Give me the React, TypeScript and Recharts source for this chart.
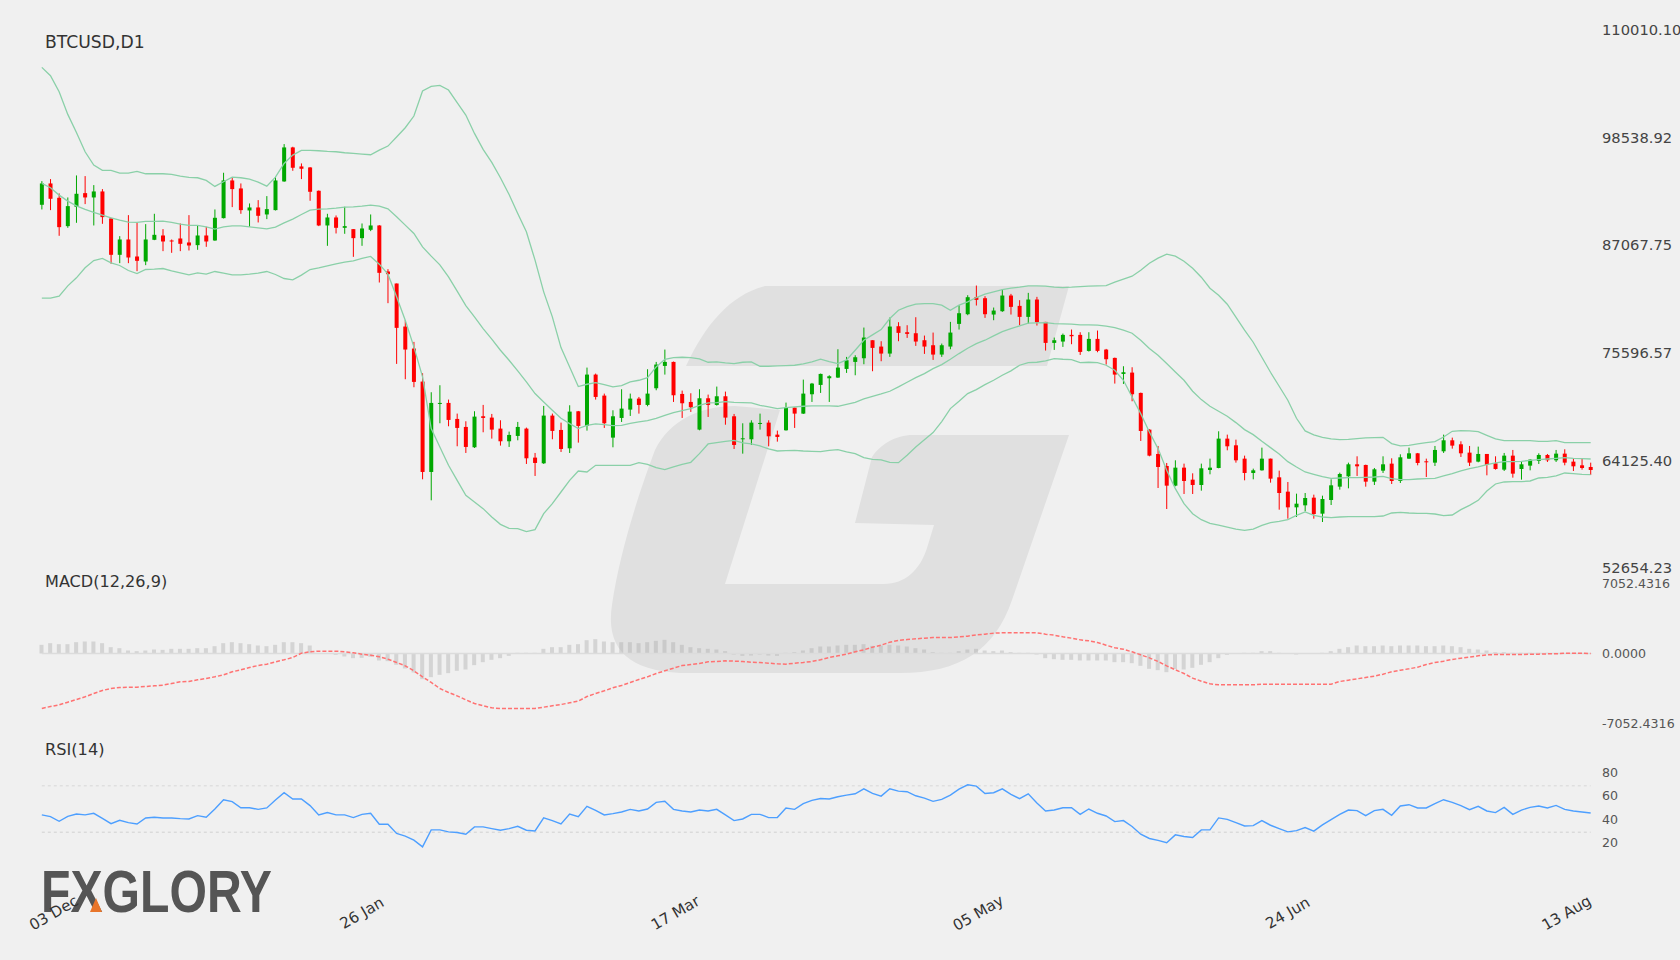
import { Bar, ComposedChart, Line, ReferenceLine, XAxis, YAxis } from "recharts"

const opens = [
  91376, 93652, 92122, 89100, 91162, 92620, 92158, 92798, 89918, 86042,
  87678, 85864, 85331, 87642, 88104, 87571, 87784, 87358, 87073, 88104,
  87571, 89953, 93972, 93118, 90771, 91091, 90345, 90807, 93865, 97492,
  95465, 95358, 92869, 89171, 90024, 88922, 88780, 87820, 88709, 89171,
  84264, 82984, 78396, 76049, 72529, 62892, 70147, 70253, 68546, 67693,
  65524, 68831, 68688, 67515, 66164, 66733, 67515, 64422, 63816, 68902,
  67371, 65415, 69362, 67798, 73274, 71034, 66553, 68651, 69540, 70714,
  70038, 71816, 74198, 74625, 71211, 70358, 67407, 70749, 70038, 70962,
  68829, 66375, 66375, 68011, 68153, 66873, 67335, 69754, 69113, 71176,
  72172, 72883, 72954, 73878, 74625, 75016, 76937, 76261, 75514, 78430,
  77790, 77683, 76937, 76403, 75408, 76261, 78679, 79710, 81524, 81417,
  79675, 80030, 81702, 80599, 79426, 81275, 78892, 76652, 76795, 77506,
  77506, 75799, 77079, 75941, 75052, 73345, 73487, 71318, 67407, 64811,
  63531, 61433, 63353, 62073, 61504, 63104, 63317, 66447, 65735, 64313,
  62784, 63068, 64313, 62322, 60793, 59121, 59335, 60153, 58446, 59904,
  61326, 62428, 63709, 63638, 61859, 63033, 63780, 61931, 64313, 64882,
  64029, 63886, 65095, 66269, 65842, 64953, 63993, 64811, 63815, 63140,
  64633, 63211, 63566, 64064, 64704, 64135, 64846, 63993, 63602, 63424,
]

const closes = [
  93652, 92016, 88993, 91233, 92549, 92158, 92798, 90060, 86042, 87678,
  85757, 85402, 87678, 88175, 87464, 87464, 87215, 87037, 88104, 87464,
  89989, 93972, 93047, 90807, 91091, 90202, 90914, 93972, 97492, 95323,
  95216, 92763, 89171, 90024, 88922, 89100, 87820, 88851, 89171, 84122,
  83979, 78254, 75943, 72493, 62892, 70253, 70253, 68440, 67586, 65559,
  68795, 68653, 67408, 66164, 66839, 67693, 64350, 63852, 68902, 67266,
  65344, 69327, 67798, 73274, 70891, 68082, 68829, 69647, 70714, 70038,
  71247, 74341, 74625, 71069, 70216, 69789, 70749, 70038, 70962, 68687,
  65771, 66482, 68153, 68118, 66695, 66624, 69754, 69113, 71247, 72314,
  73345, 73096, 74021, 74803, 75123, 77221, 76119, 75514, 78395, 77719,
  77612, 76795, 76261, 75408, 76403, 77754, 79817, 81524, 81239, 79710,
  80101, 81702, 80493, 79426, 81275, 78857, 76652, 76937, 77506, 77363,
  75692, 77079, 75799, 74910, 73274, 73523, 71176, 67264, 64633, 63424,
  61433, 63353, 61931, 61504, 63282, 63353, 66447, 65629, 64135, 62784,
  63068, 64313, 62179, 60650, 59121, 59512, 60117, 58410, 60010, 61468,
  62677, 63709, 63495, 61859, 63175, 63709, 61931, 64455, 64882, 63851,
  63922, 65238, 66269, 65700, 64882, 63886, 64811, 63638, 63211, 64633,
  62713, 63709, 64206, 64704, 64135, 64846, 63886, 63495, 63317, 63104,
]

const highs = [
  93900, 94114, 92585, 92158, 94505, 94434, 93474, 93047, 89989, 88033,
  90273, 89455, 89313, 90416, 88780, 87678, 89384, 90273, 89207, 89029,
  90878, 94790, 94327, 93652, 91518, 91874, 92300, 94363, 97848, 97563,
  95785, 95394, 92905, 90416, 90238, 91162, 88780, 89384, 90345, 89207,
  84513, 82984, 79072, 76761, 73418, 71391, 72138, 70609, 69115, 68297,
  69364, 70040, 69080, 68404, 67196, 68226, 67622, 64919, 69933, 69115,
  68153, 70002, 69398, 74021, 73381, 71247, 69469, 71710, 71247, 70891,
  73843, 74625, 75941, 74661, 71567, 71283, 71710, 71140, 71994, 71460,
  69078, 68082, 68402, 69113, 68402, 67300, 70287, 69754, 72740, 72385,
  73381, 73203, 75976, 75159, 75336, 78288, 76937, 76830, 79355, 78857,
  78537, 79390, 77434, 77754, 76581, 78892, 80670, 81737, 82768, 81630,
  80421, 82377, 81879, 81204, 81986, 81559, 78892, 77221, 77648, 78075,
  77790, 77790, 77968, 76012, 75087, 74163, 74056, 71354, 67442, 65664,
  63851, 64135, 63780, 62748, 63780, 64313, 67229, 66873, 66340, 64633,
  63246, 65486, 64313, 63033, 61824, 60579, 60650, 60472, 60366, 62108,
  62820, 63886, 64562, 63673, 63317, 64562, 64349, 64775, 65486, 64918,
  64313, 65664, 66873, 66553, 66162, 65664, 65593, 64811, 64562, 64918,
  65238, 63957, 64242, 64882, 64811, 65238, 65309, 64313, 64313, 63886,
]

const lows = [
  90878, 90807, 88069, 88922, 89455, 91447, 89171, 89349, 85082, 85153,
  85153, 84299, 84940, 87606, 86433, 86255, 86433, 86504, 86575, 86895,
  87535, 89918, 91127, 90416, 89029, 89491, 89847, 90771, 93829, 95003,
  94114, 91802, 89100, 87002, 88318, 88282, 85828, 87002, 88566, 83090,
  80886, 74414, 72778, 71924, 62110, 59870, 68084, 67764, 65631, 64919,
  65453, 67124, 66448, 65702, 65559, 66270, 63746, 62466, 63746, 66377,
  65024, 64917, 66020, 67300, 70607, 67585, 65522, 68224, 68865, 69113,
  69896, 71603, 73274, 70358, 68651, 69291, 67335, 68758, 69967, 67931,
  65344, 64846, 65771, 67407, 65628, 66126, 67300, 67585, 69078, 70358,
  71318, 70358, 72918, 73452, 73203, 74376, 73630, 74696, 75159, 76830,
  77186, 76332, 75479, 74839, 75159, 75976, 78075, 79604, 80635, 79319,
  79070, 79959, 79675, 78537, 78715, 78501, 75834, 75905, 76226, 76510,
  75372, 75728, 75656, 74341, 72314, 72278, 70429, 66198, 64562, 61184,
  58943, 61362, 60544, 60544, 60899, 62641, 63282, 65202, 63886, 62002,
  62108, 63033, 61753, 58872, 57912, 58090, 58694, 57912, 57557, 59370,
  61006, 61148, 62464, 61326, 61504, 62784, 61611, 61717, 64277, 63602,
  62357, 63531, 64918, 65380, 64491, 63531, 63922, 62535, 63140, 62997,
  62286, 62073, 63068, 63744, 63957, 63957, 63602, 62997, 63140, 62570,
]

const upperBand = [
  106027, 105138, 103431, 101013, 99093, 97031, 95608, 95040, 95040, 94755,
  94755, 94933, 94684, 94684, 94684, 94613, 94435, 94293, 94257, 93973,
  93332, 93830, 94328, 94257, 94115, 93795, 93368, 94328, 95786, 96675,
  97173, 97173, 97137, 97066, 97031, 96924, 96853, 96782, 96711, 97208,
  97635, 98595, 99591, 100835, 103502, 104000, 104107, 103609, 102258, 100942,
  98986, 97280, 95893, 94257, 92479, 90452, 88495, 85473, 82095, 79428,
  76154, 74092, 71994, 72243, 72421, 72207, 71958, 72100, 72491, 72669,
  72954, 74092, 74910, 75087, 75123, 75087, 74945, 74589, 74625, 74518,
  74447, 74589, 74625, 74163, 74163, 74198, 74234, 74270, 74412, 74625,
  74910, 74661, 74447, 74839, 75870, 76937, 77506, 78075, 79248, 80137,
  80528, 80777, 80848, 80848, 80670, 80137, 80670, 81026, 81488, 81844,
  82093, 82342, 82484, 82591, 82733, 82733, 82697, 82591, 82555, 82591,
  82662, 82697, 82733, 82768, 83124, 83444, 83764, 84404, 85152, 85685,
  86112, 85898, 85365, 84618, 83658, 82484, 81737, 80777, 79390, 78003,
  76723, 75122, 73522, 72028, 70535, 68614, 67264, 66838, 66589, 66411,
  66340, 66376, 66447, 66518, 66553, 66589, 65913, 65664, 65735, 65878,
  66020, 66127, 66624, 67229, 67300, 67264, 67193, 66802, 66411, 66233,
  66233, 66233, 66233, 66162, 66162, 66233, 66020, 66020, 66020, 66020,
]

const middleBand = [
  93652, 93189, 92407, 91767, 91269, 90878, 90558, 90273, 89989, 89740,
  89527, 89491, 89598, 89598, 89633, 89491, 89313, 89171, 89171, 89029,
  88780, 89029, 89135, 89135, 89029, 88922, 88815, 88993, 89455, 89847,
  90344, 90807, 90913, 90949, 91020, 91127, 91162, 91234, 91340, 91234,
  90949, 90096, 89207, 88318, 86895, 85900, 84975, 83695, 82166, 80637,
  79428, 78183, 77045, 75872, 74805, 73667, 72493, 71249, 70359, 69471,
  68616, 68047, 67513, 67869, 68011, 67940, 67833, 67869, 68082, 68224,
  68367, 68616, 68936, 69220, 69433, 69647, 70002, 70251, 70287, 70394,
  70322, 70287, 70251, 70002, 69825, 69647, 69754, 69825, 69896, 69931,
  69931, 69931, 69896, 70109, 70322, 70678, 70963, 71212, 71496, 71958,
  72456, 72954, 73381, 73914, 74341, 74910, 75514, 76083, 76581, 76937,
  77399, 77861, 78181, 78466, 78750, 78786, 78821, 78715, 78679, 78644,
  78573, 78573, 78537, 78430, 78288, 78004, 77684, 76937, 76048, 75337,
  74448, 73559, 72670, 71496, 70607, 69896, 69362, 68829, 68154, 67407,
  66873, 66162, 65486, 64811, 63993, 63424, 62891, 62641, 62393, 62215,
  62250, 62286, 62286, 62321, 62357, 62428, 62179, 62073, 62073, 62144,
  62179, 62215, 62464, 62713, 62997, 63246, 63424, 63673, 63851, 63993,
  63993, 64029, 64135, 64206, 64277, 64349, 64420, 64349, 64313, 64277,
]

const lowerBand = [
  81419, 81419, 81632, 82734, 83588, 84655, 85437, 85651, 85188, 84904,
  84370, 84050, 84477, 84513, 84584, 84335, 84122, 83908, 84122, 83979,
  84264, 84086, 83908, 83908, 83979, 84086, 84264, 83944, 83517, 83375,
  83873, 84477, 84655, 84868, 85082, 85259, 85402, 85651, 85864, 85046,
  83979, 81561, 79072, 76227, 73027, 67515, 65559, 63603, 62003, 60403,
  59692, 58981, 58092, 57310, 56883, 56847, 56527, 56741, 58447, 59514,
  60757, 62001, 62997, 62890, 63602, 63602, 63602, 63602, 63602, 63886,
  63709, 63353, 63140, 63424, 63709, 63922, 64846, 65878, 66020, 66162,
  66269, 65984, 65878, 65664, 65344, 65130, 65166, 65202, 65130, 65095,
  65059, 65202, 65273, 65024, 64846, 64420, 64242, 64171, 63922, 63886,
  64668, 65557, 66339, 67087, 68260, 69647, 70429, 71247, 71674, 72207,
  72669, 73203, 73665, 74270, 74554, 74590, 74732, 74981, 74910, 74874,
  74554, 74590, 74554, 74270, 73736, 72670, 70892, 69114, 67158, 65380,
  63068, 61113, 59512, 58446, 57806, 57414, 57237, 57023, 56810, 56668,
  56810, 57201, 57486, 57628, 57806, 58268, 58623, 58268, 58090, 58019,
  58090, 58126, 58126, 58126, 58126, 58197, 58517, 58588, 58517, 58481,
  58481, 58410, 58232, 58303, 58872, 59335, 59868, 60864, 61611, 61824,
  61859, 61859, 61931, 62250, 62321, 62464, 62784, 62713, 62641, 62606,
]

const macdHist = [
  873, 1041, 940, 940, 1142, 1209, 1209, 1041, 638, 537,
  302, 235, 302, 403, 369, 470, 470, 470, 537, 537,
  739, 1041, 1142, 1041, 940, 806, 739, 873, 1142, 1142,
  1041, 806, 34, 0, -134, -302, -470, -437, -336, -705,
  -772, -1142, -1511, -1914, -2586, -2384, -2149, -1981, -1746, -1612,
  -1175, -873, -638, -470, -235, 67, 67, 67, 470, 638,
  638, 873, 940, 1343, 1444, 1209, 1142, 1142, 1142, 1041,
  1142, 1276, 1377, 1142, 873, 638, 537, 470, 403, 235,
  -101, -235, -201, -101, -201, -235, 67, 134, 302, 537,
  705, 705, 806, 873, 873, 940, 772, 806, 873, 806,
  705, 537, 403, 134, 67, 67, 235, 403, 470, 302,
  235, 302, 134, 67, 67, -101, -470, -571, -638, -638,
  -705, -705, -705, -705, -873, -873, -974, -1242, -1545, -1679,
  -1880, -1578, -1612, -1444, -1142, -873, -470, -134, -34, 67,
  67, 235, 235, 67, 0, -101, -34, 0, 67, 235,
  470, 638, 806, 739, 739, 806, 739, 806, 806, 806,
  739, 739, 806, 739, 638, 470, 403, 302, 134, 134,
  67, 67, 67, 67, 67, 67, 34, 34, 34, 34,
]

const macdSignal = [
  -5541, -5339, -5171, -4903, -4634, -4365, -4030, -3727, -3526, -3425,
  -3392, -3392, -3324, -3257, -3190, -3022, -2854, -2821, -2653, -2519,
  -2351, -2149, -1847, -1645, -1410, -1209, -1075, -840, -638, -403,
  34, 168, 235, 235, 235, 168, 67, -67, -168, -336,
  -571, -907, -1242, -1746, -2351, -2921, -3526, -3929, -4265, -4668,
  -5037, -5272, -5474, -5541, -5541, -5541, -5541, -5541, -5406, -5272,
  -5138, -4970, -4802, -4332, -4030, -3761, -3459, -3224, -2921, -2619,
  -2351, -2015, -1746, -1478, -1209, -1108, -1007, -840, -806, -739,
  -772, -806, -873, -907, -974, -1041, -1075, -974, -907, -806,
  -638, -403, -235, -67, 168, 369, 638, 840, 1142, 1310,
  1410, 1478, 1545, 1612, 1612, 1612, 1679, 1746, 1880, 1948,
  2048, 2082, 2082, 2082, 2082, 2082, 1948, 1847, 1679, 1545,
  1377, 1276, 1108, 840, 571, 437, 168, -134, -437, -806,
  -1242, -1645, -2015, -2485, -2787, -3056, -3156, -3156, -3156, -3156,
  -3156, -3089, -3089, -3089, -3089, -3089, -3089, -3089, -3089, -3089,
  -2821, -2686, -2552, -2418, -2283, -2082, -1847, -1679, -1545, -1377,
  -1108, -907, -772, -604, -470, -369, -235, -134, -101, -101,
  -101, -101, -67, -67, -34, -34, 34, 34, 34, 0,
]

const rsiValues = [
  44.9, 43.4, 39.4, 43.7, 45.7, 44.9, 46.3, 42, 37.4, 40.3,
  38.3, 37.1, 42.3, 42.9, 42.3, 42.3, 41.7, 41.4, 44.3, 42.9,
  50, 58, 56.3, 51.1, 51.1, 49.7, 50.9, 57.7, 64, 58.6,
  58.6, 52.9, 44.9, 46.9, 44.9, 44.9, 42.6, 45.4, 46.3, 36.9,
  36.9, 28.9, 26.6, 23.1, 17.4, 32, 32, 30.3, 29.7, 28.3,
  34.6, 34.6, 33.1, 31.7, 33.1, 35.1, 31.7, 31.1, 42.3, 40,
  37.1, 45.7, 43.4, 52.3, 48.9, 44.9, 46, 47.4, 49.7, 48.3,
  50, 55.7, 56.6, 49.7, 48.3, 47.4, 49.1, 48.3, 49.7, 44.9,
  40, 41.4, 45.4, 45.4, 42.6, 42.6, 50.9, 49.7, 54.6, 57.4,
  59.1, 58.6, 60.6, 62, 63.1, 67.4, 63.4, 61.1, 67.4, 65.4,
  64.9, 61.4, 59.4, 56.6, 58.3, 62, 67.1, 70.9, 69.7, 63.4,
  64, 67.4, 62.6, 58.9, 63.1, 55.1, 48.3, 49.1, 51.1, 51.1,
  45.4, 50, 46.3, 44, 39.1, 40, 34.9, 28.3, 24.6, 22.9,
  20.9, 27.7, 26.3, 25.4, 32, 32, 42.3, 41.1, 38.3, 35.4,
  35.7, 40, 36, 33.1, 30.3, 31.4, 34, 30.9, 36.3, 40.9,
  45.4, 49.1, 48.6, 44.3, 48.6, 49.7, 44.6, 52.6, 53.7, 50.9,
  50.9, 54.6, 58, 55.7, 52.9, 49.4, 52.3, 48.3, 46.9, 51.4,
  45.4, 49.1, 51.4, 52.6, 50.9, 53.1, 49.7, 48.3, 47.4, 46.6,
]

const priceTicks = [110010.1, 98538.92, 87067.75, 75596.57, 64125.4, 52654.23]
const macdTicks = [7052.4316, 0, -7052.4316]
const rsiTicks = [80, 60, 40, 20]
const dateTickIndex = [0, 37, 73, 108, 144, 179]
const dateTickLabels = ["03 Dec", "26 Jan", "17 Mar", "05 May", "24 Jun", "13 Aug"]

const rows = opens.map((open, idx) => ({
  idx,
  open,
  close: closes[idx],
  high: highs[idx],
  low: lows[idx],
  range: [lows[idx], highs[idx]],
  upper: upperBand[idx],
  middle: middleBand[idx],
  lower: lowerBand[idx],
  hist: macdHist[idx],
  signal: macdSignal[idx],
  rsi: rsiValues[idx],
}))

const FONT = "'DejaVu Sans', sans-serif"
const BAND = "#8ad0a8"
const LEFT = 37.5

function Candle(props: any) {
  const { x, y, width, height, payload } = props
  const { open, close, high, low } = payload
  const perPrice = height / (high - low)
  const top = y + (high - Math.max(open, close)) * perPrice
  const bottom = y + (high - Math.min(open, close)) * perPrice
  const color = close >= open ? "#00a800" : "#ff0000"
  const mid = x + width / 2
  return (
    <g>
      <line x1={mid} x2={mid} y1={y} y2={y + height} stroke={color} strokeWidth={1} />
      <rect x={mid - 2} y={top} width={4} height={Math.max(bottom - top, 1)} fill={color} />
    </g>
  )
}

function DateTick(props: any) {
  const { x, y, payload } = props
  const pos = dateTickIndex.indexOf(payload.value)
  // first and last labels sit inside the plot, the others are only nudged
  const shift = [12, 0, 2, 2, 0, -24][pos]
  const cx = x + shift
  const cy = y + 46
  return (
    <text
      x={cx}
      y={cy}
      fontSize={15.2}
      fill="#333"
      textAnchor="middle"
      dominantBaseline="central"
      transform={`rotate(-30 ${cx} ${cy})`}
    >
      {dateTickLabels[pos]}
    </text>
  )
}

function Title({ top, size, children }: { top: number; size: number; children: string }) {
  return (
    <div style={{ position: "absolute", left: 45, top: top - 12, height: 24, lineHeight: "24px", fontSize: size, color: "#333" }}>
      {children}
    </div>
  )
}

function Backdrop() {
  return (
    <svg width={1680} height={960} style={{ position: "absolute", left: 0, top: 0 }}>
      <path d="M765 286 L1069 286 L1047 366 L686 366 C705 325 730 295 765 286 Z" fill="#e0e0e0" />
      <path
        d="M780 410 L725 584 L884 584 C905 584 920 570 927 548 L934 525 L855 523 L872 457 C880 445 895 435 913 435 L1069 435 L1012 600 C995 650 960 673 900 673 L690 673 C630 673 605 650 612 605 C620 550 640 490 655 450 C670 420 700 406 735 406 Z"
        fill="#e0e0e0"
      />
      <text
        x={41}
        y={912}
        fontFamily="'Liberation Sans', sans-serif"
        fontWeight="bold"
        fontSize={60}
        fill="#555"
        textLength={231}
        lengthAdjust="spacingAndGlyphs"
      >
        FXGLORY
      </text>
      <path d="M96 898 L102 912 L90 912 Z" fill="#e8752a" />
    </svg>
  )
}

export default function App() {
  return (
    <div style={{ position: "relative", width: 1680, height: 960, background: "#f0f0f0", overflow: "hidden", fontFamily: FONT }}>
      <style>{"body{margin:0;background:#f0f0f0}"}</style>
      <Backdrop />

      <div style={{ position: "absolute", left: 0, top: 0 }}>
        <ComposedChart width={1680} height={590} data={rows} margin={{ top: 30, right: 0, bottom: 22, left: LEFT }}>
          <XAxis dataKey="idx" scale="band" hide />
          <YAxis
            orientation="right"
            width={85}
            domain={[52654.23, 110010.1]}
            ticks={priceTicks}
            interval={0}
            axisLine={false}
            tickLine={false}
            tickSize={0}
            tickMargin={7}
            tick={{ fontSize: 14.7, fill: "#444", textAnchor: "start" }}
            tickFormatter={(v: number) => v.toFixed(2)}
          />
          <Line dataKey="upper" stroke={BAND} strokeWidth={1.3} dot={false} isAnimationActive={false} />
          <Line dataKey="middle" stroke={BAND} strokeWidth={1.3} dot={false} isAnimationActive={false} />
          <Line dataKey="lower" stroke={BAND} strokeWidth={1.3} dot={false} isAnimationActive={false} />
          <Bar dataKey="range" shape={<Candle />} isAnimationActive={false} />
        </ComposedChart>
      </div>

      <div style={{ position: "absolute", left: 0, top: 560 }}>
        <ComposedChart width={1680} height={180} data={rows} margin={{ top: 23.5, right: 0, bottom: 16.5, left: LEFT }}>
          <XAxis dataKey="idx" scale="band" hide />
          <YAxis
            orientation="right"
            width={85}
            domain={[-7052.4316, 7052.4316]}
            ticks={macdTicks}
            interval={0}
            axisLine={false}
            tickLine={false}
            tickSize={0}
            tickMargin={7}
            tick={{ fontSize: 12.6, fill: "#555", textAnchor: "start" }}
            tickFormatter={(v: number) => v.toFixed(4)}
          />
          <ReferenceLine segment={[{ x: 0, y: 0 }, { x: 179, y: 0 }]} stroke="#dcdcdc" strokeWidth={1.5} />
          <Bar dataKey="hist" barSize={4} fill="rgba(170,170,170,0.4)" isAnimationActive={false} />
          <Line dataKey="signal" stroke="#ff7272" strokeWidth={1.5} strokeDasharray="4 2" dot={false} isAnimationActive={false} />
        </ComposedChart>
      </div>

      <div style={{ position: "absolute", left: 0, top: 751 }}>
        <ComposedChart width={1680} height={209} data={rows} margin={{ top: 0, right: 0, bottom: 0, left: LEFT }}>
          <XAxis
            dataKey="idx"
            scale="band"
            height={93}
            ticks={dateTickIndex}
            interval={0}
            axisLine={false}
            tickLine={false}
            tickSize={0}
            tickMargin={0}
            tick={<DateTick />}
          />
          <YAxis
            orientation="right"
            width={85}
            domain={[0, 100]}
            ticks={rsiTicks}
            interval={0}
            axisLine={false}
            tickLine={false}
            tickSize={0}
            tickMargin={7}
            tick={{ fontSize: 12.6, fill: "#555", textAnchor: "start", dy: -1.5 }}
          />
          <ReferenceLine segment={[{ x: 0, y: 70 }, { x: 179, y: 70 }]} stroke="#d8d8d8" strokeDasharray="3 3" />
          <ReferenceLine segment={[{ x: 0, y: 30 }, { x: 179, y: 30 }]} stroke="#d0d0d0" strokeDasharray="3 3" />
          <Line dataKey="rsi" stroke="#4d9fff" strokeWidth={1.4} dot={false} isAnimationActive={false} />
        </ComposedChart>
      </div>

      <Title top={42} size={17.2}>BTCUSD,D1</Title>
      <Title top={582} size={16.1}>MACD(12,26,9)</Title>
      <Title top={750} size={16.2}>RSI(14)</Title>
    </div>
  )
}
